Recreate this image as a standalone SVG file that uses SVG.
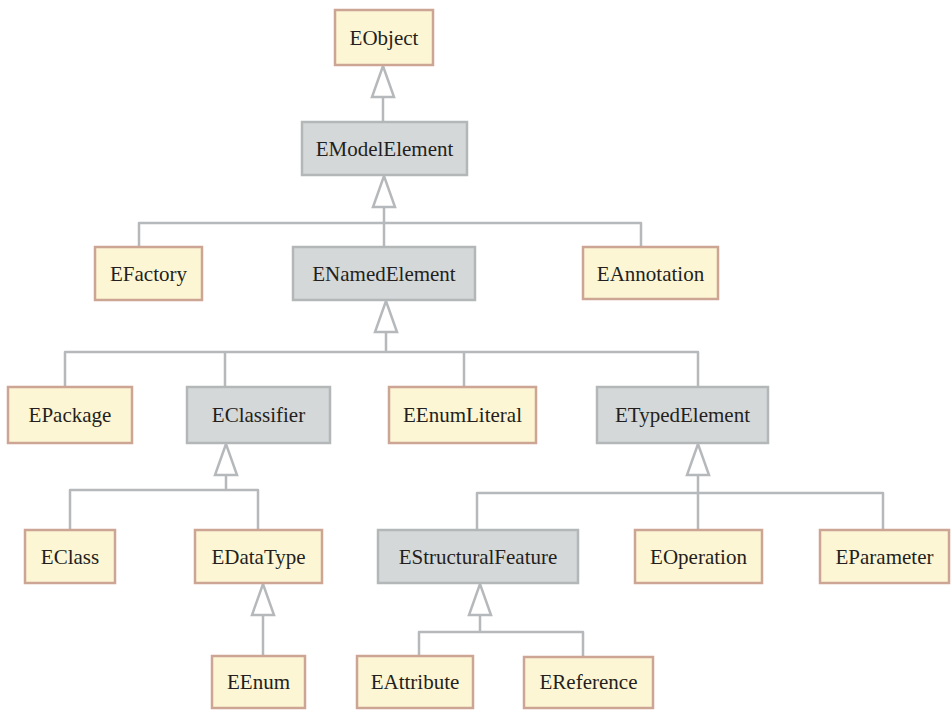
<svg xmlns="http://www.w3.org/2000/svg" width="951" height="710" viewBox="0 0 951 710">
  <style>
    .cls rect { stroke-width: 2.5; }
    .concrete rect { fill: #fdf6d4; stroke: #cda594; }
    .abstract rect { fill: #d5d8d9; stroke: #b3b7b8; }
    .cls text { font-family: 'Liberation Serif', 'DejaVu Serif', serif; font-size: 21px; fill: #231f20; text-anchor: middle; }
    .edge { fill: none; stroke: #b6b9bb; stroke-width: 2.5; stroke-linejoin: round; }
    .tri { fill: #ffffff; stroke: #b6b9bb; stroke-width: 2.5; stroke-linejoin: miter; }
  </style>
  <rect width="951" height="710" fill="#ffffff"/>

  <!-- generalization connectors -->
  <g id="connectors">
    <!-- EModelElement -> EObject -->
    <path class="edge" d="M383 97 V122"/>
    <polygon class="tri" points="383,66 372,97 394,97"/>
    <!-- EFactory, ENamedElement, EAnnotation -> EModelElement -->
    <path class="edge" d="M384 207 V247 M139 247 V223 H641 V247"/>
    <polygon class="tri" points="384,176 373,207 395,207"/>
    <!-- EPackage, EClassifier, EEnumLiteral, ETypedElement -> ENamedElement -->
    <path class="edge" d="M386 332 V352 M65 387 V352 H698 V387 M225 352 V387 M464 352 V387"/>
    <polygon class="tri" points="386,301 375,332 397,332"/>
    <!-- EClass, EDataType -> EClassifier -->
    <path class="edge" d="M226 475 V490 M70 530 V490 H258 V530"/>
    <polygon class="tri" points="226,444 215,475 237,475"/>
    <!-- EStructuralFeature, EOperation, EParameter -> ETypedElement -->
    <path class="edge" d="M698 475 V530 M477 530 V493 H883 V530"/>
    <polygon class="tri" points="698,444 687,475 709,475"/>
    <!-- EEnum -> EDataType -->
    <path class="edge" d="M263 615 V656"/>
    <polygon class="tri" points="263,584 252,615 274,615"/>
    <!-- EAttribute, EReference -> EStructuralFeature -->
    <path class="edge" d="M480 615 V632 M419 656 V632 H583 V657"/>
    <polygon class="tri" points="480,584 469,615 491,615"/>
  </g>

  <!-- classes -->
  <g id="EObject" class="cls concrete"><rect x="335" y="10" width="98" height="55"/><text x="384" y="45">EObject</text></g>
  <g id="EModelElement" class="cls abstract"><rect x="302" y="122" width="165" height="53"/><text x="384.5" y="156">EModelElement</text></g>

  <g id="EFactory" class="cls concrete"><rect x="95" y="247" width="107" height="53"/><text x="148.5" y="281">EFactory</text></g>
  <g id="ENamedElement" class="cls abstract"><rect x="293" y="247" width="182" height="53"/><text x="384" y="281">ENamedElement</text></g>
  <g id="EAnnotation" class="cls concrete"><rect x="583" y="247" width="135" height="52"/><text x="650.5" y="281">EAnnotation</text></g>

  <g id="EPackage" class="cls concrete"><rect x="8" y="387" width="124" height="56"/><text x="70" y="422">EPackage</text></g>
  <g id="EClassifier" class="cls abstract"><rect x="187" y="387" width="143" height="56"/><text x="258.5" y="422">EClassifier</text></g>
  <g id="EEnumLiteral" class="cls concrete"><rect x="389" y="387" width="147" height="56"/><text x="462.5" y="422">EEnumLiteral</text></g>
  <g id="ETypedElement" class="cls abstract"><rect x="597" y="387" width="171" height="56"/><text x="682.5" y="422">ETypedElement</text></g>

  <g id="EClass" class="cls concrete"><rect x="25" y="530" width="90" height="53"/><text x="70" y="564">EClass</text></g>
  <g id="EDataType" class="cls concrete"><rect x="195" y="530" width="127" height="53"/><text x="258.5" y="564">EDataType</text></g>
  <g id="EStructuralFeature" class="cls abstract"><rect x="378" y="530" width="200" height="53"/><text x="478" y="564">EStructuralFeature</text></g>
  <g id="EOperation" class="cls concrete"><rect x="635" y="530" width="127" height="53"/><text x="698.5" y="564">EOperation</text></g>
  <g id="EParameter" class="cls concrete"><rect x="820" y="530" width="129" height="53"/><text x="884.5" y="564">EParameter</text></g>

  <g id="EEnum" class="cls concrete"><rect x="212" y="656" width="93" height="52"/><text x="258.5" y="689">EEnum</text></g>
  <g id="EAttribute" class="cls concrete"><rect x="357" y="656" width="116" height="52"/><text x="415" y="689">EAttribute</text></g>
  <g id="EReference" class="cls concrete"><rect x="524" y="657" width="129" height="51"/><text x="588.5" y="689">EReference</text></g>
</svg>
